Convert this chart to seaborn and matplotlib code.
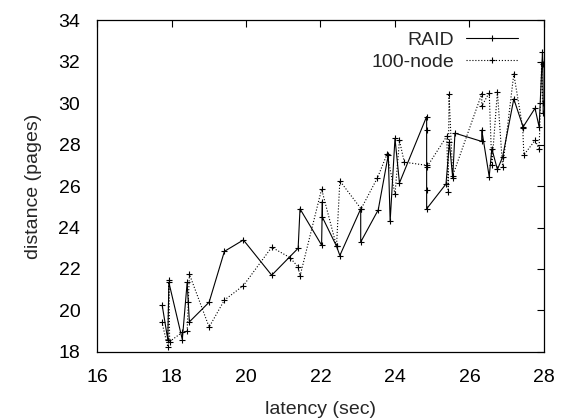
import matplotlib
matplotlib.use("Agg")
import matplotlib.pyplot as plt
import seaborn as sns

# RAID series (solid)
raid_x = [17.75, 17.90, 17.93, 18.29, 18.42, 18.45, 18.48, 19.01, 19.42, 19.93,
          20.69, 21.40, 21.45, 22.03, 22.05, 22.05, 22.43, 22.52, 23.08, 23.08,
          23.55, 23.82, 23.87, 24.00, 24.12, 24.85, 24.85, 24.85, 24.85, 25.37,
          25.46, 25.55, 25.61, 26.33, 26.33, 26.53, 26.60, 26.75, 26.89, 27.19,
          27.44, 27.76, 27.87, 27.96, 27.97, 27.98]
raid_y = [20.25, 18.6, 21.35, 18.6, 21.35, 20.4, 19.45, 20.4, 22.85, 23.4,
          21.7, 23.0, 24.9, 23.15, 25.25, 24.5, 23.1, 22.65, 24.9, 23.3,
          24.85, 27.5, 24.3, 28.3, 26.15, 29.35, 28.7, 25.8, 24.9, 26.1,
          28.1, 26.4, 28.55, 28.15, 28.7, 26.45, 27.8, 26.8, 27.4, 30.2,
          28.85, 29.75, 28.85, 32.45, 31.9, 29.5]

# 100-node series (dotted)
node_x = [17.74, 17.90, 17.93, 17.95, 18.29, 18.42, 18.48, 19.01, 19.42, 19.93,
          20.69, 21.18, 21.40, 21.45, 22.03, 22.43, 22.52, 23.09, 23.53, 23.79,
          24.00, 24.12, 24.25, 24.85, 24.85, 25.39, 25.43, 25.45, 25.55, 26.33,
          26.33, 26.53, 26.60, 26.75, 26.89, 27.19, 27.43, 27.46, 27.76, 27.87,
          27.94, 27.97]
node_y = [19.45, 18.25, 21.45, 18.5, 18.95, 19.0, 21.75, 19.2, 20.5, 21.2,
          23.05, 22.55, 22.1, 21.65, 25.85, 23.1, 26.25, 24.9, 26.4, 27.55,
          25.6, 28.2, 27.15, 27.0, 26.9, 28.4, 25.7, 30.45, 26.5, 30.45,
          29.85, 30.5, 27.0, 30.55, 26.9, 31.4, 28.8, 27.5, 28.2, 27.8,
          32.0, 30.0]

x_ticks = [16, 18, 20, 22, 24, 26, 28]
y_ticks = [18, 20, 22, 24, 26, 28, 30, 32, 34]

sns.set_theme(style="white")
plt.rcParams["font.family"] = ["Liberation Sans", "DejaVu Sans"]

fig = plt.figure(figsize=(5.69, 4.19), dpi=100)
ax = fig.add_axes([0.1705, 0.16, 0.7855, 0.792])

line_kw = dict(sort=False, estimator=None, color="black", linewidth=0.8,
               marker="+", markersize=5, markeredgewidth=0.8,
               markeredgecolor="black")
sns.lineplot(x=raid_x, y=raid_y, ax=ax, linestyle="-", label="RAID", **line_kw)
sns.lineplot(x=node_x, y=node_y, ax=ax, linestyle=":", label="100-node", **line_kw)

ax.set_xlim(16, 28)
ax.set_ylim(18, 34)
ax.set_xticks(x_ticks)
ax.set_yticks(y_ticks)
ax.tick_params(direction="in", length=5, width=0.8, top=True, right=True,
               labelsize=14, colors="black")
ax.tick_params(axis="x", pad=12)
ax.tick_params(axis="y", pad=12)
for s in ax.spines.values():
    s.set_color("black")
    s.set_linewidth(0.9)

ax.set_xlabel("latency (sec)", fontsize=14, labelpad=11)
ax.set_ylabel("distance (pages)", fontsize=14, labelpad=12)

ax.legend(loc="upper right", bbox_to_anchor=(0.96, 0.99), frameon=False,
          markerfirst=False, fontsize=14, handlelength=2.7, borderaxespad=0,
          labelspacing=0.25, handletextpad=0.6)

fig.savefig("out.png", dpi=100)
